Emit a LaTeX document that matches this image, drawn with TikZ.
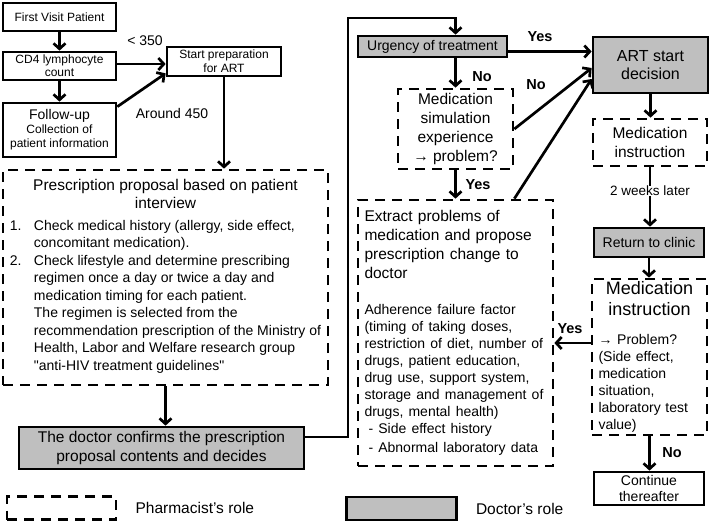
\documentclass[tikz,border=0pt]{standalone}
\usepackage{fontspec}
\setmainfont{Liberation Sans}
\usetikzlibrary{arrows.meta, positioning}
\newcommand{\fsz}[2]{\fontsize{#1}{#2}\selectfont}

\begin{document}
\begin{tikzpicture}[
    x=1pt, y=-1pt,
    box/.style=
        {draw, line width=2.7pt, inner sep=0pt, align=center},
    pharm/.style={box, dash pattern=on 10pt off 7pt},
    doc/.style={box, fill=black!25},
    lbl/.style={inner sep=0pt, font=\fsz{14}{16}},
    ans/.style={inner sep=0pt, font=\fsz{14.5}{16}\bfseries},
    conn/.style={line width=2.7pt},
    arr/.style={conn, -{Straight Barb[length=5.5pt,width=12pt]}}]
    \useasboundingbox (0,0) rectangle (709,522);
    \node [box, minimum width=113pt, minimum height=28pt, font=\fsz{12}{13}]
        (visit) at (59.5,17) {First Visit Patient};
    \node [box, minimum width=113pt, minimum height=28pt, font=\fsz{12}{13}]
        (cd4) at (59.5,66) {CD4 lymphocyte\\count};
    \node [box, minimum width=113pt, minimum height=54pt, font=\fsz{12}{14}]
        (follow) at (59.5,130) {{\fsz{14}{16}Follow-up}\\Collection of\\patient information};
    \node [box, minimum width=114pt, minimum height=29pt, font=\fsz{12}{14}]
        (prep) at (224,61.5) {Start preparation\\for ART};
    \node [pharm, minimum width=325pt, minimum height=215pt, font=\fsz{14}{17.5}]
        (presc) at (165.5,277.5) {{\fsz{15.5}{18}Prescription proposal based on patient}\\
        {\fsz{15.5}{18}interview}\\[9pt]
        {\begin{tabular}{@{}p{24pt}@{}l@{}}
        1. & Check medical history (allergy, side effect,\\
           & concomitant medication).\\
        2. & Check lifestyle and determine prescribing\\
           & regimen once a day or twice a day and\\
           & medication timing for each patient.\\
           & The regimen is selected from the\\
           & recommendation prescription of the Ministry of\\
           & Health, Labor and Welfare research group\\
           & \textquotedbl anti-HIV treatment guidelines\textquotedbl
        \end{tabular}}};
    \node [doc, minimum width=285pt, minimum height=42pt, font=\fsz{15.5}{19}]
        (doctor) at (161.5,448) {The doctor confirms the prescription\\proposal contents and decides};
    \node [doc, minimum width=149pt, minimum height=21pt, font=\fsz{14}{16}]
        (urgency) at (432.5,46.5) {Urgency of treatment};
    \node [doc, minimum width=115pt, minimum height=56pt, font=\fsz{16}{18}]
        (art) at (650.5,65) {ART start\\decision};
    \node [pharm, minimum width=115pt, minimum height=80pt, font=\fsz{15.5}{18.7}]
        (sim) at (455.5,129) {Medication\\simulation\\experience\\→ problem?};
    \node [pharm, minimum width=195pt, minimum height=266pt, text width=182pt,
        align=left, font=\fsz{15.5}{19}]
        (extract) at (455.5,333) {Extract problems of\\medication and propose\\prescription change to\\doctor\par
        \vspace{19pt}\fsz{14}{17}Adherence failure factor\\(timing of taking doses,\\restriction of diet, number of\\drugs, patient education,\\drug use, support system,\\storage and management of\\drugs, mental health)\\
        \hspace*{4pt}- Side effect history\\\hspace*{4pt}- Abnormal laboratory data};
    \node [pharm, minimum width=114pt, minimum height=47pt, font=\fsz{15.5}{19}]
        (instr1) at (650,142.5) {Medication\\instruction};
    \node [lbl, font=\fsz{13.5}{15}] (weeks) at (650,191) {2 weeks later};
    \node [doc, minimum width=110pt, minimum height=29pt, font=\fsz{14}{16}]
        (ret) at (649,242.5) {Return to clinic};
    \node [pharm, minimum width=115pt, minimum height=156pt, text width=102pt,
        align=left, font=\fsz{14}{17}]
        (instr2) at (649.5,357) {{\centering\fsz{18}{21}Medication\\instruction\par}
        \vspace{12pt}→ Problem?\\(Side effect,\\medication\\situation,\\laboratory test\\value)};
    \node [box, minimum width=110pt, minimum height=33pt, font=\fsz{14}{16}]
        (cont) at (649,488.5) {Continue\\thereafter};
    \node [pharm, minimum width=109pt, minimum height=23pt] (legpharm) at (61.5,508) {};
    \node [lbl, font=\fsz{15.5}{17}, right=18pt of legpharm] (legpharmtxt) {Pharmacist’s role};
    \node [doc, minimum width=110pt, minimum height=23pt] (legdoc) at (401.5,508.5) {};
    \node [lbl, font=\fsz{15.5}{17}, right=18pt of legdoc] (legdoctxt) {Doctor's role};
    \coordinate (bend) at (348,18);
    \coordinate (yesstart) at ([yshift=-5pt]urgency.east);
    \coordinate (yesprob) at ([yshift=14pt]instr2.west);
    \draw [arr] (visit) -- (cd4);
    \draw [arr] (cd4) -- (follow);
    \draw [arr] ([yshift=2pt]cd4.east) -- ([yshift=2pt]cd4.east -| prep.west);
    \draw [arr] ([yshift=-5pt]follow.north east) -- ([yshift=4pt]prep.south west);
    \draw [arr] (prep.south) -- (prep.south |- presc.north);
    \draw [arr] (presc.south) -- (presc.south |- doctor.north);
    \draw [arr] ([yshift=11pt]doctor.east) -| (bend) -| (sim.north |- urgency.north);
    \draw [arr] (yesstart) -- (yesstart -| art.west);
    \draw [arr] (sim.north |- urgency.south) -- (sim.north);
    \draw [arr] (sim.east) -- ([yshift=-3pt]art.west);
    \draw [arr] ([xshift=-40pt]extract.north east) -- ([yshift=-14pt]art.west);
    \draw [arr] (sim) -- (extract);
    \draw [arr] (art.south) -- (art.south |- instr1.north);
    \draw [conn] (instr1.south) -- (instr1.south |- weeks.north);
    \draw [arr] (weeks.south) -- (weeks.south |- ret.north);
    \draw [arr] (ret.south) -- (ret.south |- instr2.north);
    \draw [arr] (yesprob) -- (yesprob -| extract.east);
    \draw [arr] (instr2.south) -- (instr2.south |- cont.north);
    \node [lbl] (lt350) at (145,41) {< 350};
    \node [lbl] (around) at (172,113) {Around 450};
    \node [ans] (yes1) at (540,37) {Yes};
    \node [ans] (no1) at (482,77) {No};
    \node [ans] (no2) at (536,85) {No};
    \node [ans] (yes2) at (478,185) {Yes};
    \node [ans] (yes3) at (570,329) {Yes};
    \node [ans] (no3) at (672,453) {No};
\end{tikzpicture}
\end{document}
